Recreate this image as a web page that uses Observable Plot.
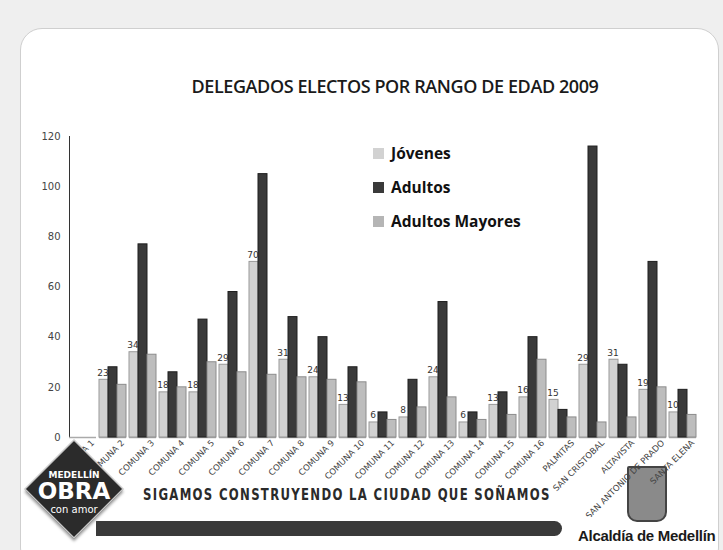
<!DOCTYPE html>
<html><head><meta charset="utf-8">
<script src="https://cdn.jsdelivr.net/npm/d3@7"></script>
<script src="https://cdn.jsdelivr.net/npm/@observablehq/plot@0.6"></script>
<style>
body{margin:0;background:#efefef;width:723px;height:550px;overflow:hidden;position:relative;font-family:"Open Sans",sans-serif;}
#card{position:absolute;left:20px;top:28px;width:697px;height:540px;background:#fff;border:1px solid #cfcfcf;border-radius:22px;}
#title{position:absolute;left:0;width:790px;top:74px;text-align:center;font-family:"Open Sans",sans-serif;font-weight:600;font-size:18px;color:#1a1a1a;letter-spacing:-0.4px;}
#chart{position:absolute;left:0;top:100px;z-index:2;}
#legend{position:absolute;left:373px;top:142px;font-family:"Open Sans",sans-serif;font-weight:700;font-size:15.5px;color:#111;z-index:3;}
#legend div{height:34px;display:flex;align-items:flex-start;}
#legend span.sw{display:inline-block;width:11px;height:11px;margin:6px 7px 0 0;}
#logo{position:absolute;left:23px;top:440px;width:102px;height:98px;z-index:3;}
#logo .dia{position:absolute;left:16px;top:14px;width:68px;height:68px;background:#2b2b2b;border:1px solid #ddd;box-shadow:2px 2px 3px #999;transform:rotate(45deg);}
#logo .t{position:absolute;width:102px;text-align:center;color:#fff;font-family:"DejaVu Sans",sans-serif;}
#slogan{position:absolute;left:143px;top:485px;font-family:"DejaVu Sans",sans-serif;font-weight:700;font-size:16px;letter-spacing:1.8px;color:#2a2a2a;transform:scaleX(0.73);transform-origin:left;white-space:nowrap;}
#band{position:absolute;left:96px;top:521px;width:466px;height:15px;background:#3a3a3a;border-radius:0 8px 8px 0;}
#shield{position:absolute;left:627px;top:466px;width:36px;height:52px;background:#8a8a8a;border:2px solid #444;border-radius:2px 2px 10px 10px;z-index:1;}
#alc{position:absolute;left:578px;top:527px;font-family:"Liberation Sans",Arial,sans-serif;font-weight:700;font-size:15px;color:#1a1a1a;letter-spacing:-0.3px;}
</style></head>
<body>
<div id="card"></div>
<div id="title">DELEGADOS ELECTOS POR RANGO DE EDAD 2009</div>
<div id="shield"></div>
<div id="chart"></div>
<div id="legend"></div>
<div id="slogan">SIGAMOS CONSTRUYENDO LA CIUDAD QUE SOÑAMOS</div>
<div id="band"></div>
<div id="logo"><div class="dia"></div>
<div class="t" style="top:30px;font-size:9px;font-weight:700;">MEDELLÍN</div>
<div class="t" style="top:38px;font-size:23px;font-weight:900;">OBRA</div>
<div class="t" style="top:64px;font-size:10px;">con amor</div></div>
<div id="alc">Alcaldía de Medellín</div>
<script>
const categories = ["COMUNA 1","COMUNA 2","COMUNA 3","COMUNA 4","COMUNA 5","COMUNA 6","COMUNA 7","COMUNA 8","COMUNA 9","COMUNA 10","COMUNA 11","COMUNA 12","COMUNA 13","COMUNA 14","COMUNA 15","COMUNA 16","PALMITAS","SAN CRISTOBAL","ALTAVISTA","SAN ANTONIO DE PRADO","SANTA ELENA"];
const series = ["Jóvenes","Adultos","Adultos Mayores"];
const jovenes = [0,23,34,18,18,29,70,31,24,13,6,8,24,6,13,16,15,29,31,19,10];
const adultos = [0,28,77,26,47,58,105,48,40,28,10,23,54,10,18,40,11,116,29,70,19];
const mayores = [0,21,33,20,30,26,25,24,23,22,7,12,16,7,9,31,8,6,8,20,9];
const yTicks = [0,20,40,60,80,100,120];
const fills = ["#d2d2d2","#3a3a3a","#bdbdbd"];
const strokes = ["#9a9a9a","#1e1e1e","#8c8c8c"];

const data = [];
categories.forEach((c,i)=>{
  [jovenes,adultos,mayores].forEach((arr,j)=>data.push({cat:c, serie:series[j], value:arr[i]}));
});

const chart = Plot.plot({
  width:723, height:417,
  marginLeft:63, marginRight:21, marginTop:36, marginBottom:80,
  style:{background:"transparent", fontFamily:"DejaVu Sans, sans-serif", color:"#333"},
  fx:{domain:categories, padding:0.1, label:null, axis:null},
  x:{domain:series, axis:null, padding:0},
  y:{domain:[0,120], ticks:yTicks, label:null, tickSize:0, tickPadding:9, line:true, fontSize:9},
  color:{domain:series, range:fills},
  marks:[
    Plot.ruleY(categories,{fx:d=>d, y:()=>0, stroke:"#aaa", strokeWidth:1.5}),
    Plot.barY(data.filter(d=>d.value>0),{fx:"cat", x:"serie", y:"value", fill:"serie", stroke:d=>strokes[series.indexOf(d.serie)], strokeWidth:1}),
    Plot.text(data.filter(d=>d.serie==="Jóvenes" && d.value>0),{fx:"cat", x:"serie", y:"value", text:d=>String(d.value), dy:-7, dx:-1, fontSize:9, fill:"#333"}),
    Plot.axisFx({anchor:"bottom", tickRotate:-45, tickSize:0, tickPadding:4, fontSize:8.5, dx:10, label:null, fill:"#444"})
  ]
});
chart.querySelectorAll("[aria-label='y-axis tick label'] text").forEach(t=>t.setAttribute("fill","#444"));
document.getElementById("chart").appendChild(chart);

const leg = document.getElementById("legend");
series.forEach((s,i)=>{
  const d = document.createElement("div");
  d.innerHTML = `<span class="sw" style="background:${i===2?"#b5b5b5":fills[i]}"></span>${s}`;
  leg.appendChild(d);
});
</script>
</body></html>
